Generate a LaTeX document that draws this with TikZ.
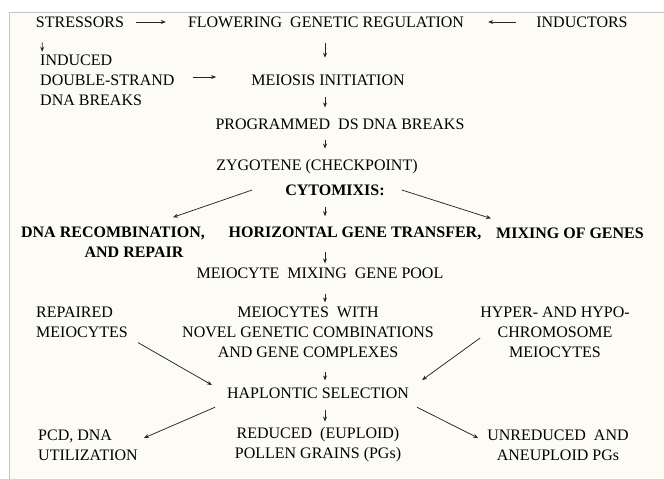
\documentclass[tikz,border=0pt]{standalone}
\usepackage{fontspec}
\setmainfont{Liberation Serif}
\usetikzlibrary{arrows.meta}
\definecolor{paper}{HTML}{FCFCF5}
\definecolor{rim}{HTML}{C4C4C4}
\begin{document}
\begin{tikzpicture}[x=1pt, y=-1pt,
  txt/.style={inner sep=0pt, font=\fontsize{16}{20}\selectfont},
  bld/.style={inner sep=0pt, font=\fontsize{16}{20}\selectfont\bfseries},
  arr/.style={-{Stealth[length=5pt,width=4pt]}, line width=0.75pt, draw=black!85}]
\useasboundingbox (0,0) rectangle (664,479);
\fill[white] (0,0) rectangle (664,479);
\fill[paper] (9,12) rectangle (664,479);
\draw[rim, line width=1pt] (9,479) -- (9,12) -- (664,12);
\coordinate (spine) at (325,0);
% top rows
\node[txt] (stress) at (80,22) {STRESSORS};
\node[txt] (flower) at (326,22) {FLOWERING~ GENETIC REGULATION};
\node[txt] (induct) at (582,22) {INDUCTORS};
\node[txt, align=left, anchor=west] (dsb) at (40,80) {INDUCED\\DOUBLE-STRAND\\DNA BREAKS};
\node[txt] (meio) at (328,80) {MEIOSIS INITIATION};
\node[txt] (prog) at (340,124) {PROGRAMMED~ DS DNA BREAKS};
\node[txt] (zyg) at (317,167) {ZYGOTENE (CHECKPOINT)};
\node[bld] (cyto) at (335,190) {CYTOMIXIS:};
% cytomixis outcomes
\node[bld] (recomb) at (113,233) {DNA RECOMBINATION,};
\node[bld] (horiz) at (355,233) {HORIZONTAL GENE TRANSFER,};
\node[bld] (mixing) at (570,233) {MIXING OF GENES};
\node[bld] (repair) at (134,252) {AND REPAIR};
\node[txt] (pool) at (320,273) {MEIOCYTE~ MIXING~ GENE POOL};
\node[txt, align=left, anchor=west] (repaired) at (36,322) {REPAIRED\\MEIOCYTES};
\node[txt, align=center] (novel) at (308,332) {MEIOCYTES~ WITH\\NOVEL GENETIC COMBINATIONS\\AND GENE COMPLEXES};
\node[txt, align=center] (hyper) at (555,332) {HYPER- AND HYPO-\\CHROMOSOME\\MEIOCYTES};
% selection
\node[txt] (hapl) at (318,393) {HAPLONTIC SELECTION};
\node[txt, align=left, anchor=west] (pcd) at (38,445) {PCD, DNA\\UTILIZATION};
\node[txt, align=center] (reduced) at (318,445) {REDUCED~ (EUPLOID)\\POLLEN GRAINS (PGs)};
\node[txt, align=center] (unred) at (558,445) {UNREDUCED~ AND\\ANEUPLOID PGs};
% arrows
\draw[arr, shorten <=12pt, shorten >=22pt] (stress) -- (flower);
\draw[arr, shorten <=20pt, shorten >=24pt] (induct) -- (flower);
\draw[arr, shorten <=14.7pt, shorten >=2.7pt] ([xshift=7pt]stress.south west) -- ([xshift=2pt]dsb.north west);
\draw[arr, shorten <=18pt, shorten >=35pt] ([yshift=3pt]dsb.east) -- ([yshift=3pt]meio.west);
\draw[arr, shorten <=15.7pt, shorten >=16.7pt] (flower.south -| spine) -- (meio.north -| spine);
\draw[arr, shorten <=11pt, shorten >=11pt] (meio.south -| spine) -- (prog.north -| spine);
\draw[arr, shorten <=10pt, shorten >=11pt] (prog.south -| spine) -- (zyg.north -| spine);
\draw[arr, shorten <=11pt, shorten >=10pt] (cyto.south -| spine) -- (horiz.north -| spine);
\draw[arr] ([xshift=-33pt]cyto.west) -- ([xshift=60pt,yshift=9pt]recomb.north);
\draw[arr] ([xshift=17pt]cyto.east) -- ([xshift=-5pt,yshift=9pt]mixing.north west);
\draw[arr, shorten <=12pt, shorten >=4pt] (horiz.south -| spine) -- (pool.north -| spine);
\draw[arr, shorten <=15pt, shorten >=4pt] (pool.south -| spine) -- (novel.north -| spine);
\draw[arr, shorten <=14pt, shorten >=7pt] (novel.south -| spine) -- (hapl.north -| spine);
\draw[arr] ([xshift=10pt,yshift=-5pt]repaired.south east) -- ([xshift=-15pt,yshift=8pt]hapl.west);
\draw[arr] ([yshift=-6pt]hyper.west) -- ([xshift=13pt,yshift=13pt]hapl.east);
\draw[arr, shorten <=11pt, shorten >=6pt] (hapl.south -| spine) -- (reduced.north -| spine);
\draw[arr] ([xshift=-12pt,yshift=-8.7pt]hapl.south west) -- ([xshift=6pt,yshift=7pt]pcd.east);
\draw[arr] ([xshift=8pt,yshift=-8.7pt]hapl.south east) -- ([xshift=-9pt,yshift=7pt]unred.west);
\end{tikzpicture}
\end{document}
